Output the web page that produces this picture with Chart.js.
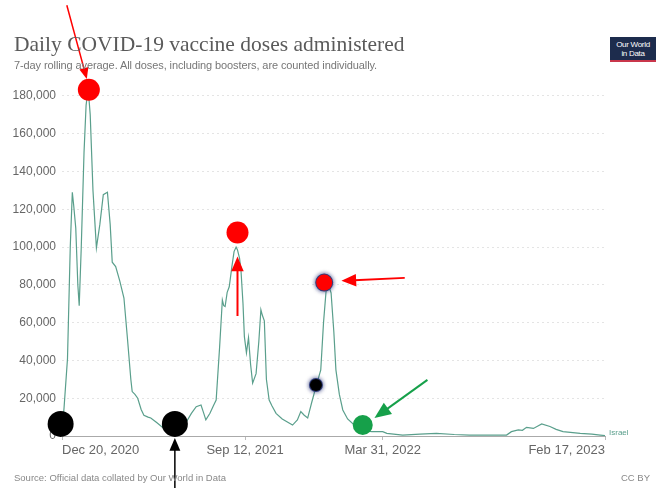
<!DOCTYPE html>
<html>
<head>
<meta charset="utf-8">
<script src="https://cdn.jsdelivr.net/npm/chart.js@4.4.1/dist/chart.umd.min.js"></script>
<style>
    body { margin: 0; background: #fff; }
    #wrap { position: relative; width: 667px; height: 488px; overflow: hidden; font-family: "Liberation Sans", Arial, sans-serif; }
    #chart { position: absolute; left: 0; top: 0; }
    .title { position: absolute; left: 14px; top: 32px; font: 21.5px "Liberation Serif", serif; color: #5a5a5a; white-space: nowrap; }
    .subtitle { position: absolute; left: 14px; top: 59px; font-size: 11px; color: #777; white-space: nowrap; letter-spacing: -0.1px; }
    .logo { position: absolute; left: 610px; top: 37px; width: 46px; height: 25px; background: #1d2c4d; border-bottom: 2px solid #c9364b;
            color: #fff; font-size: 8px; line-height: 9px; text-align: center; padding-top: 3px; box-sizing: border-box; letter-spacing: -0.3px; }
    .source { position: absolute; left: 14px; top: 472px; font-size: 9.5px; color: #888; white-space: nowrap; }
    .cc { position: absolute; left: 621px; top: 472px; font-size: 9.5px; color: #888; }
</style>
</head>
<body>
<div id="wrap">
    <canvas id="chart" width="667" height="488"></canvas>
    <div class="title">Daily COVID-19 vaccine doses administered</div>
    <div class="subtitle">7-day rolling average. All doses, including boosters, are counted individually.</div>
    <div class="logo">Our World<br>in Data</div>
    <div class="source">Source: Official data collated by Our World in Data</div>
    <div class="cc">CC BY</div>
</div>
<script>
// days since first dose (Dec 20, 2020) and 7-day average doses, Israel
const days = [0, 3, 8, 12, 15, 17, 20, 23, 25, 28, 32, 35, 38, 41, 45, 50, 55, 60, 66, 70, 73, 78, 84, 90, 95,
    100, 102, 106, 110, 115, 119, 125, 129, 138, 148, 155, 163, 170, 176, 180, 188, 195, 202, 206, 209, 215, 220,
    224, 229, 233, 235, 237, 240, 243, 247, 250, 253, 255, 258, 260, 263, 265, 268, 271, 274, 277, 282, 286, 289,
    291, 294, 297, 301, 305, 311, 320, 335, 342, 347, 352, 357, 363, 369, 376, 380, 384, 386, 388, 391, 395, 398,
    403, 408, 415, 427, 437, 450, 466, 472, 495, 520, 544, 570, 592, 620, 646, 653, 663, 669, 675, 685, 697, 709,
    718, 728, 753, 770, 782, 789];
const doses = [2000, 15000, 41000, 100000, 129000, 122000, 110000, 80000, 69000, 100000, 150000, 175000, 184000,
    170000, 130000, 99600, 112000, 127700, 129000, 112000, 92000, 89700, 82000, 73000, 52000,
    30000, 23500, 22000, 20000, 14000, 11000, 10000, 9500, 7000, 4000, 3000, 2000, 3000, 5000, 7000, 12000, 15500,
    16400, 12000, 8500, 12000, 16000,
    19000, 47000, 72000, 69000, 68500, 76000, 79000, 90000, 97600, 100000, 98500, 94000, 88000, 70000, 52600, 44000,
    52000, 38000, 28000, 33000, 50000, 66800,
    64000, 61000, 30000, 19000, 16000, 12000, 9000, 5800, 8500, 12900, 11000, 9500, 18000, 26000, 35000, 60000, 78000,
    81000, 79000, 75700, 55000, 35000,
    22000, 13800, 9000, 5000, 3000, 2300, 2300, 1400, 500, 1000, 1400, 800, 500, 500, 500, 2300, 3200, 3000, 4600,
    4000, 6400, 5000,
    3500, 2300, 1400, 1000, 500, 200];

const yTicks = [0, 20000, 40000, 60000, 80000, 100000, 120000, 140000, 160000, 180000];
const tickDays = [0, 266, 466, 789];
const tickLabels = ['Dec 20, 2020', 'Sep 12, 2021', 'Mar 31, 2022', 'Feb 17, 2023'];
const seriesName = 'Israel';

// annotation markers added on top of the screenshot, placed in data units
const markerDays = [-2, 164, 39, 255, 381, 369, 437];
const markerValues = [6400, 6400, 183300, 107700, 81200, 27000, 5800];
// arrows: [tailDay, tailValue, headDay, headValue]
const arrowsData = [
    [7, 228000, 36, 189000],
    [255, 63500, 255, 95000],
    [498, 83700, 406, 82100],
    [531, 29700, 454, 9500],
    [164, -28600, 164, -1000]
];

const markerStyle = [
    { r: 13, fill: '#000' }, { r: 13, fill: '#000' },
    { r: 11, fill: '#f00' }, { r: 11, fill: '#f00' },
    { r: 8, fill: '#f00', glow: true }, { r: 6, fill: '#000', glow: true },
    { r: 10, fill: '#16a04a' }
];
const arrowStyle = [
    { color: '#f00', w: 1.5, head: 12 }, { color: '#f00', w: 2, head: 16 },
    { color: '#f00', w: 1.8, head: 16 }, { color: '#16a04a', w: 2, head: 18 },
    { color: '#000', w: 1.5, head: 14 }
];

const lineColor = '#5a9f8c';

const annotate = {
    id: 'annotate',
    afterDraw(chart) {
        const { ctx, scales: { x, y } } = chart;
        ctx.save();
        // series label at the end of the line
        const last = days.length - 1;
        ctx.fillStyle = lineColor;
        ctx.font = '8px "Liberation Sans", Arial';
        ctx.textBaseline = 'middle';
        ctx.fillText(seriesName, x.getPixelForValue(days[last]) + 4, y.getPixelForValue(doses[last]) - 3);

        arrowsData.forEach((a, i) => {
            const s = arrowStyle[i];
            const x1 = x.getPixelForValue(a[0]), y1 = y.getPixelForValue(a[1]);
            const x2 = x.getPixelForValue(a[2]), y2 = y.getPixelForValue(a[3]);
            const ang = Math.atan2(y2 - y1, x2 - x1);
            ctx.strokeStyle = s.color;
            ctx.fillStyle = s.color;
            ctx.lineWidth = s.w;
            ctx.beginPath();
            ctx.moveTo(x1, y1);
            ctx.lineTo(x2 - Math.cos(ang) * s.head * 0.8, y2 - Math.sin(ang) * s.head * 0.8);
            ctx.stroke();
            ctx.beginPath();
            ctx.moveTo(x2, y2);
            ctx.lineTo(x2 - Math.cos(ang - 0.4) * s.head, y2 - Math.sin(ang - 0.4) * s.head);
            ctx.lineTo(x2 - Math.cos(ang + 0.4) * s.head, y2 - Math.sin(ang + 0.4) * s.head);
            ctx.closePath();
            ctx.fill();
        });

        markerDays.forEach((d, i) => {
            const s = markerStyle[i];
            const px = x.getPixelForValue(d), py = y.getPixelForValue(markerValues[i]);
            ctx.beginPath();
            ctx.arc(px, py, s.r, 0, Math.PI * 2);
            if (s.glow) {
                ctx.shadowColor = 'rgba(30,40,110,0.7)';
                ctx.shadowBlur = 4;
                ctx.lineWidth = 2;
                ctx.strokeStyle = '#3a4580';
                ctx.stroke();
            }
            ctx.fillStyle = s.fill;
            ctx.fill();
            ctx.shadowBlur = 0;
        });
        ctx.restore();
    }
};

new Chart(document.getElementById('chart'), {
    type: 'line',
    data: {
        datasets: [{
            label: seriesName,
            data: days.map((d, i) => ({ x: d, y: doses[i] })),
            borderColor: lineColor,
            borderWidth: 1.2,
            pointRadius: 0,
            tension: 0
        }]
    },
    options: {
        responsive: false,
        animation: false,
        layout: { padding: { top: 77, right: 62, left: 0, bottom: 0 } },
        plugins: { legend: { display: false }, tooltip: { enabled: false } },
        scales: {
            x: {
                type: 'linear',
                min: 0,
                max: 789,
                afterBuildTicks: s => { s.ticks = tickDays.map(v => ({ value: v })); },
                afterFit: s => { s.height = 52; },
                grid: { display: true, drawOnChartArea: false, tickLength: 4, color: '#bbb' },
                border: { display: true, color: '#aaa', width: 1 },
                ticks: {
                    align: 'inner',
                    maxRotation: 0,
                    padding: 3,
                    color: '#666',
                    font: { size: 13, family: '"Liberation Sans", Arial' },
                    callback: v => tickLabels[tickDays.indexOf(v)]
                }
            },
            y: {
                min: 0,
                max: 190000,
                afterBuildTicks: s => { s.ticks = yTicks.map(v => ({ value: v })); },
                afterFit: s => { s.width = 62; },
                grid: { color: '#e4e4e4', drawTicks: false },
                border: { display: false, dash: [2, 3] },
                ticks: {
                    padding: 6,
                    color: '#666',
                    font: { size: 12, family: '"Liberation Sans", Arial' },
                    callback: v => v.toLocaleString('en-US')
                }
            }
        }
    },
    plugins: [annotate]
});
</script>
</body>
</html>
